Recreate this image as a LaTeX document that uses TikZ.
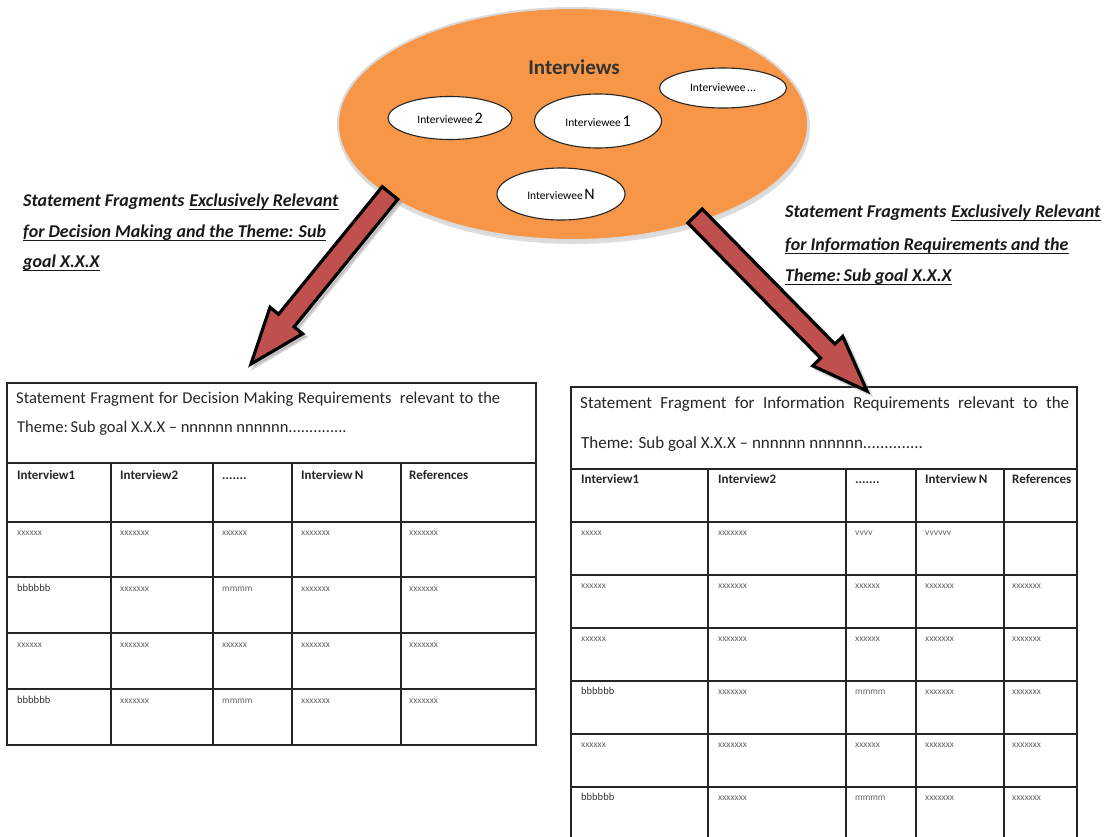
\documentclass[tikz,border=0pt]{standalone}
\usepackage{fontspec}
\setmainfont{Carlito}
\usetikzlibrary{calc,shapes.geometric}

\definecolor{ovalorange}{HTML}{F79646}
\definecolor{arrowred}{HTML}{C0504D}

\tikzset{
  oval/.style={ellipse, draw=black!85, line width=1.1pt, fill=white, inner sep=0pt},
  fatarrow/.style={fill=arrowred, draw=black, line width=3.2pt, line join=miter},
  arrowshade/.style={fill=black!45, draw=black!45, line width=3.2pt, opacity=0.35},
  gridline/.style={draw=black!85, line width=1.3pt},
  hcell/.style={anchor=base west, inner sep=0pt, font=\fontsize{13}{15}\selectfont\bfseries, text=black!85},
  xcell/.style={anchor=base west, inner sep=0pt, font=\fontsize{9.5}{11}\selectfont, text=black!60},
  bcell/.style={anchor=base west, inner sep=0pt, font=\fontsize{10.5}{12}\selectfont, text=black!80},
  lead/.style={anchor=base west, inner sep=0pt, font=\fontsize{18}{20}\selectfont\bfseries\itshape, text=black!90},
  underl/.style={draw=black!90, line width=1.2pt},
  ttl/.style={anchor=base west, inner sep=0pt, text=black!85},
}

% block arrow from tail coordinate #1 to tip coordinate #2
\newcommand{\blockarrow}[3]{%
  \coordinate (#1-h) at ($(#2)!56pt!(#1)$);
  \filldraw[#3] ($(#1)!10pt!90:(#2)$) -- ($(#1-h)!10pt!90:(#2)$) -- ($(#1-h)!21pt!90:(#2)$) -- (#2)
     -- ($(#1-h)!21pt!-90:(#2)$) -- ($(#1-h)!10pt!-90:(#2)$) -- ($(#1)!10pt!-90:(#2)$) -- cycle;}

% underline below a text node
\newcommand{\underrule}[1]{\draw[underl] ($(#1.base west)+(0,3.5)$) -- ($(#1.base east)+(0,3.5)$);}

\newcommand{\ivw}[2]{{\fontsize{11.5}{13}\selectfont Interviewee}\,{\fontsize{#1}{18}\selectfont #2}}

\begin{document}
\begin{tikzpicture}[x=1pt,y=-1pt]
\useasboundingbox (0,0) rectangle (1108,836);
\clip (0,0) rectangle (1108,836);
\fill[white] (0,0) rectangle (1108,836);

% ---------- interviews oval ----------
\node[ellipse, minimum width=472pt, minimum height=234pt, fill=black!22, opacity=0.6] (ovalshade) at (574,127) {};
\node[ellipse, minimum width=470pt, minimum height=232pt, fill=ovalorange, draw=white!85!black, line width=2pt] (interviews) at (573,124) {};
\node[font=\fontsize{21}{23}\selectfont\bfseries, text=black!80] (ivtitle) at (574,67) {Interviews};

\node[oval, minimum width=124pt, minimum height=43pt] (e2) at (450,118) {\ivw{16}{2}};
\node[oval, minimum width=127pt, minimum height=54pt] (e1) at (598,121) {\ivw{16}{1}};
\node[oval, minimum width=127pt, minimum height=40pt] (edots) at (723,88) {\ivw{11.5}{...}};
\node[oval, minimum width=128pt, minimum height=52pt] (eN) at (561,194) {\ivw{16}{N}};

% ---------- captions ----------
\node[lead] (lt1) at (23,206) {Statement Fragments};
\node[lead] (lt1u) at ($(lt1.base east)+(4.5,0)$) {Exclusively Relevant};
\node[lead] (lt2) at (23,237) {for Decision Making and the Theme: Sub};
\node[lead] (lt3) at (23,267) {goal X.X.X};
\underrule{lt1u} \underrule{lt2} \underrule{lt3}

\node[lead] (rt1) at (785,217) {Statement Fragments};
\node[lead] (rt1u) at ($(rt1.base east)+(4.5,0)$) {Exclusively Relevant};
\node[lead] (rt2) at (785,250) {for Information Requirements and the};
\node[lead] (rt3) at (785,281) {Theme:\,Sub goal X.X.X};
\underrule{rt1u} \underrule{rt2} \underrule{rt3}

% ---------- left table ----------
\draw[gridline] (7,383) rectangle (536,745);
\draw[gridline] (7,463) -- (536,463);
\foreach \y in {522,577,633,689} \draw[gridline] (7,\y) -- (536,\y);
\foreach \x in {111,213,292,401} \draw[gridline] (\x,463) -- (\x,745);

\node[ttl, font=\fontsize{16.5}{18}\selectfont] (lti1) at (16,403)
  {\makebox[484pt][s]{Statement Fragment for Decision Making Requirements\hspace{4pt} relevant to the}};
\node[ttl, font=\fontsize{16.5}{18}\selectfont] (lti2) at (17,432)
  {Theme:\,Sub goal X.X.X -- nnnnnn nnnnnn..............};

\node[hcell] (lh1) at (17,479) {Interview1};
\node[hcell] (lh2) at (120,479) {Interview2};
\node[hcell] (lh3) at (222,479) {.......};
\node[hcell] (lh4) at (301,479) {Interview\,N};
\node[hcell] (lh5) at (409,479) {References};

\foreach \yy/\r in {535/1,647/3} {
  \node[xcell] (l\r a) at (17,\yy) {xxxxxx};
  \node[xcell] (l\r b) at (120,\yy) {xxxxxxx};
  \node[xcell] (l\r c) at (222,\yy) {xxxxxx};
  \node[xcell] (l\r d) at (301,\yy) {xxxxxxx};
  \node[xcell] (l\r e) at (409,\yy) {xxxxxxx};
}
\foreach \yy/\r in {591/2,703/4} {
  \node[bcell] (l\r a) at (17,\yy) {bbbbbb};
  \node[xcell] (l\r b) at (120,\yy) {xxxxxxx};
  \node[xcell] (l\r c) at (222,\yy) {mmmm};
  \node[xcell] (l\r d) at (301,\yy) {xxxxxxx};
  \node[xcell] (l\r e) at (409,\yy) {xxxxxxx};
}

% ---------- right table ----------
\draw[gridline] (571,387) rectangle (1077,850);
\draw[gridline] (571,469) -- (1077,469);
\foreach \y in {522,575,628,681,734,787} \draw[gridline] (571,\y) -- (1077,\y);
\foreach \x in {708,846,916,1004} \draw[gridline] (\x,469) -- (\x,850);

\node[ttl, font=\fontsize{17}{19}\selectfont] (rti1) at (580,408)
  {\makebox[489pt][s]{Statement Fragment for Information Requirements relevant to the}};
\node[ttl, font=\fontsize{17}{19}\selectfont] (rti2) at (581,448)
  {Theme: Sub goal X.X.X -- nnnnnn nnnnnn..............};

\node[hcell] (rh1) at (581,483) {Interview1};
\node[hcell] (rh2) at (718,483) {Interview2};
\node[hcell] (rh3) at (855,483) {.......};
\node[hcell] (rh4) at (925,483) {Interview\,N};
\node[hcell] (rh5) at (1012,483) {References};

\node[xcell] (r1a) at (581,535) {xxxxx};
\node[xcell] (r1b) at (718,535) {xxxxxxx};
\node[xcell] (r1c) at (855,535) {vvvv};
\node[xcell] (r1d) at (925,535) {vvvvvv};
\foreach \yy/\r in {588/2,641/3,747/5} {
  \node[xcell] (r\r a) at (581,\yy) {xxxxxx};
  \node[xcell] (r\r b) at (718,\yy) {xxxxxxx};
  \node[xcell] (r\r c) at (855,\yy) {xxxxxx};
  \node[xcell] (r\r d) at (925,\yy) {xxxxxxx};
  \node[xcell] (r\r e) at (1012,\yy) {xxxxxxx};
}
\foreach \yy/\r in {694/4,800/6} {
  \node[bcell] (r\r a) at (581,\yy) {bbbbbb};
  \node[xcell] (r\r b) at (718,\yy) {xxxxxxx};
  \node[xcell] (r\r c) at (855,\yy) {mmmm};
  \node[xcell] (r\r d) at (925,\yy) {xxxxxxx};
  \node[xcell] (r\r e) at (1012,\yy) {xxxxxxx};
}

% ---------- block arrows from the oval to the tables ----------
\coordinate (ltail) at (390,193);
\coordinate (ltip) at (251,364);
\coordinate (rtail) at (695,216);
\coordinate (rtip) at (867,391);
\begin{scope}[transform canvas={shift={(3pt,-3pt)}}]
  \blockarrow{ltail}{ltip}{arrowshade}
  \blockarrow{rtail}{rtip}{arrowshade}
\end{scope}
\blockarrow{ltail}{ltip}{fatarrow}
\blockarrow{rtail}{rtip}{fatarrow}
\end{tikzpicture}
\end{document}
